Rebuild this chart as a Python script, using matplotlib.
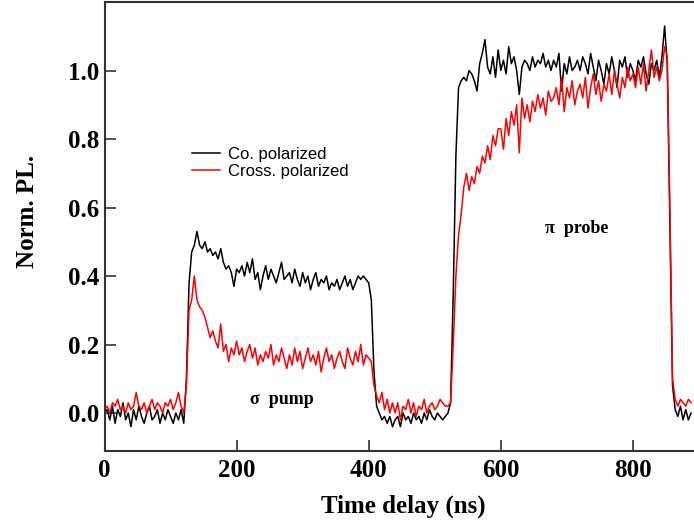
import numpy as np
import matplotlib
matplotlib.use("Agg")
import matplotlib.pyplot as plt

# Normalized PL traces, one sample every 4 ns
# (each row below = 40 ns)
co_polarized = [
    0.00, 0.01, -0.02, 0.02, -0.03, 0.01, -0.01, 0.03, -0.02, 0.00,
    -0.04, 0.01, -0.02, 0.02, -0.01, -0.03, 0.00, 0.02, -0.02, -0.01,
    0.01, -0.03, 0.00, -0.02, 0.01, -0.01, -0.03, 0.00, -0.02, 0.01,
    -0.03, 0.10, 0.38, 0.47, 0.49, 0.53, 0.49, 0.48, 0.50, 0.47,
    0.48, 0.46, 0.47, 0.45, 0.48, 0.44, 0.42, 0.43, 0.41, 0.37,
    0.42, 0.41, 0.43, 0.40, 0.44, 0.41, 0.45, 0.39, 0.41, 0.36,
    0.40, 0.43, 0.39, 0.42, 0.40, 0.38, 0.41, 0.44, 0.39, 0.40,
    0.41, 0.38, 0.42, 0.39, 0.37, 0.41, 0.38, 0.40, 0.36, 0.39,
    0.41, 0.37, 0.39, 0.38, 0.40, 0.36, 0.38, 0.37, 0.39, 0.36,
    0.38, 0.40, 0.37, 0.39, 0.36, 0.38, 0.40, 0.39, 0.40, 0.39,
    0.38, 0.33, 0.12, 0.02, 0.00, -0.02, -0.01, -0.03, -0.01, -0.04,
    -0.02, -0.01, -0.04, 0.00, -0.02, -0.01, -0.03, 0.00, -0.02, -0.01,
    -0.03, 0.00, -0.02, 0.01, -0.01, -0.02, 0.00, -0.01, -0.02, -0.01,
    0.00, 0.03, 0.35, 0.75, 0.95, 0.97, 0.98, 0.97, 1.00, 0.99,
    0.97, 0.94, 1.02, 1.05, 1.09, 1.01, 0.99, 1.04, 0.98, 1.06,
    1.00, 1.03, 0.99, 1.07, 1.02, 1.04, 1.00, 0.93, 1.01, 1.03,
    1.02, 1.00, 1.04, 1.01, 1.03, 1.02, 1.05, 1.01, 1.03, 1.00,
    1.03, 1.01, 1.05, 0.94, 1.02, 0.99, 1.04, 1.00, 1.01, 1.03,
    1.00, 1.04, 1.02, 0.99, 1.05, 1.01, 0.97, 1.03, 1.00, 0.96,
    1.02, 0.99, 1.04, 1.00, 0.95, 1.03, 1.01, 1.04, 0.98, 1.02,
    1.00, 0.97, 1.03, 1.01, 1.04, 0.99, 0.96, 1.02, 1.00, 1.03,
    0.98, 1.04, 1.13, 1.02, 0.55, 0.08, 0.01, -0.01, 0.02, -0.02,
    0.01, -0.02, 0.00,
]
cross_polarized = [
    0.01, 0.02, 0.00, 0.03, 0.02, 0.04, 0.01, 0.02, 0.00, 0.03,
    0.01, 0.02, 0.06, 0.02, 0.01, 0.03, 0.00, 0.02, 0.04, 0.01,
    0.03, 0.02, 0.00, 0.03, 0.02, 0.04, 0.01, 0.03, 0.06, 0.02,
    0.00, 0.08, 0.30, 0.33, 0.40, 0.33, 0.31, 0.30, 0.28, 0.25,
    0.22, 0.24, 0.21, 0.19, 0.26, 0.18, 0.20, 0.15, 0.19, 0.17,
    0.21, 0.17, 0.19, 0.15, 0.18, 0.20, 0.16, 0.19, 0.14, 0.17,
    0.15, 0.18, 0.16, 0.20, 0.14, 0.17, 0.15, 0.19, 0.16, 0.13,
    0.17, 0.14, 0.19, 0.15, 0.18, 0.13, 0.16, 0.19, 0.15, 0.17,
    0.14, 0.18, 0.12, 0.16, 0.19, 0.15, 0.17, 0.13, 0.16, 0.18,
    0.15, 0.13, 0.19, 0.16, 0.14, 0.18, 0.15, 0.20, 0.14, 0.17,
    0.16, 0.15, 0.08, 0.05, 0.03, 0.06, 0.01, 0.04, 0.00, 0.03,
    0.00, 0.03, -0.02, 0.02, 0.01, 0.04, 0.00, 0.03, -0.01, 0.02,
    0.01, 0.04, 0.00, 0.02, 0.03, 0.01, 0.02, 0.04, 0.03, 0.02,
    0.02, 0.03, 0.20, 0.40, 0.52, 0.58, 0.66, 0.70, 0.65, 0.69,
    0.67, 0.72, 0.70, 0.75, 0.73, 0.78, 0.74, 0.81, 0.78, 0.83,
    0.83, 0.77, 0.86, 0.81, 0.88, 0.84, 0.90, 0.76, 0.92, 0.86,
    0.90, 0.85, 0.91, 0.88, 0.93, 0.89, 0.92, 0.87, 0.94, 0.91,
    0.92, 0.95, 0.90, 0.98, 0.88, 0.95, 0.92, 0.97, 0.90, 0.94,
    0.96, 0.92, 0.98, 0.89, 0.95, 0.99, 0.93, 0.97, 0.91, 0.96,
    0.94, 0.99, 0.93, 1.00, 0.96, 0.92, 0.98, 0.95, 1.01, 0.97,
    0.99, 0.95, 1.01, 0.96, 1.02, 0.94, 1.00, 1.06, 0.98, 1.01,
    0.97, 1.00, 1.07, 1.04, 0.60, 0.10, 0.04, 0.02, 0.04, 0.03,
    0.02, 0.04, 0.03,
]
time_ns = 4 * np.arange(len(co_polarized))

x_ticks = [0, 200, 400, 600, 800]
y_ticks = [0.0, 0.2, 0.4, 0.6, 0.8, 1.0]

serif = "Liberation Serif"

W, H = 694, 530
fig = plt.figure(figsize=(W / 100, H / 100), dpi=100)
# axes run past the right edge of the picture, like the reference crop
ax = fig.add_axes([104.5 / W, (H - 450.7) / H, 900 * 0.6605 / W, 448.7 / H])

ax.plot(time_ns, co_polarized, color="black", lw=1.1, label="Co. polarized")
ax.plot(time_ns, cross_polarized, color="#ff0000", lw=1.1, label="Cross. polarized")

ax.set_xlim(0, 900)
ax.set_ylim(-0.11, 1.2)
ax.set_xticks(x_ticks)
ax.set_yticks(y_ticks)
ax.set_xticklabels([str(v) for v in x_ticks], fontfamily=serif, fontweight="bold", fontsize=18)
ax.set_yticklabels(["%.1f" % v for v in y_ticks], fontfamily=serif, fontweight="bold", fontsize=18)
ax.tick_params(direction="in", length=8, width=1.2, color="#333333")
ax.tick_params(axis="x", pad=6)
ax.tick_params(axis="y", pad=4)
for s in ax.spines.values():
    s.set_linewidth(1.5)
    s.set_color("#333333")

fig.text(403 / W, 1 - 506 / H, "Time delay (ns)", ha="center", va="center",
         fontfamily=serif, fontweight="bold", fontsize=18)
fig.text(28 / W, 1 - 211 / H, "Norm. PL.", ha="center", va="center", rotation=90,
         fontfamily=serif, fontweight="bold", fontsize=18)

ax.text(268, 0.04, "σ  pump", ha="center", va="center",
        fontfamily=serif, fontweight="bold", fontsize=13)
ax.text(715, 0.54, "π  probe", ha="center", va="center",
        fontfamily=serif, fontweight="bold", fontsize=13)

ax.legend(loc="upper left", bbox_to_anchor=(192 / W, 1 - 147 / H),
          bbox_transform=fig.transFigure, frameon=False, borderpad=0,
          borderaxespad=0, handlelength=1.7, handletextpad=0.45,
          labelspacing=0.1, prop={"family": "Liberation Sans", "size": 12})

fig.savefig("out.png", dpi=100)
